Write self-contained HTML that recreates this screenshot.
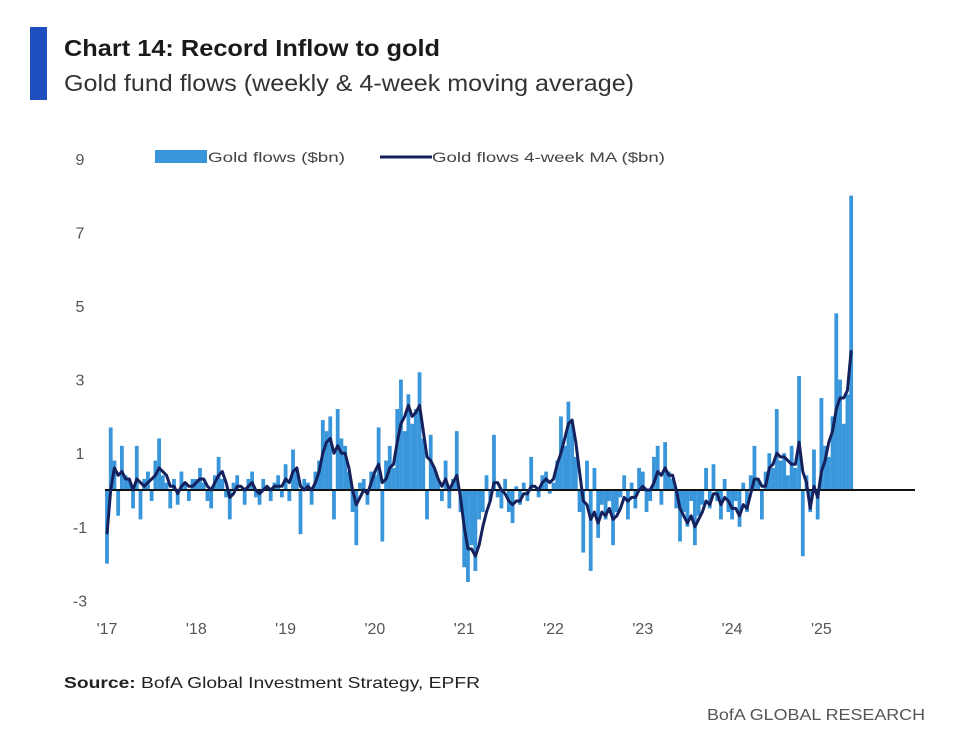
<!DOCTYPE html>
<html><head><meta charset="utf-8"><style>
html,body{margin:0;padding:0;background:#fff;}
svg{display:block;font-family:"Liberation Sans Narrow","Liberation Sans",sans-serif;}
</style></head><body>
<svg id="chart" width="962" height="748" viewBox="0 0 962 748">
<rect x="30" y="27" width="17" height="73" fill="#1f4fbf"/>
<text x="64" y="56" font-size="23" font-weight="bold" fill="#1a1a1a" textLength="376" lengthAdjust="spacingAndGlyphs">Chart 14: Record Inflow to gold</text>
<text x="64" y="91" font-size="23" fill="#333" textLength="570" lengthAdjust="spacingAndGlyphs">Gold fund flows (weekly &amp; 4-week moving average)</text>
<g>
<rect x="155" y="150" width="52" height="13" fill="#3a96da"/>
<text x="208" y="162" font-size="14" fill="#444" textLength="137" lengthAdjust="spacingAndGlyphs">Gold flows ($bn)</text>
<line x1="380" y1="157" x2="432" y2="157" stroke="#14215c" stroke-width="3"/>
<text x="432" y="162" font-size="14" fill="#444" textLength="233" lengthAdjust="spacingAndGlyphs">Gold flows 4-week MA ($bn)</text>
</g>
<g id="yaxis"></g>
<g id="xaxis"></g>
<g id="bars"></g>
<line x1="105" y1="490" x2="915" y2="490" stroke="#111" stroke-width="2"/>
<path id="maline" fill="none" stroke="#14215c" stroke-width="3" stroke-linejoin="round"/>
<text x="64" y="688" font-size="16" fill="#222" textLength="416" lengthAdjust="spacingAndGlyphs"><tspan font-weight="bold">Source:</tspan> BofA Global Investment Strategy, EPFR</text>
<text x="707" y="720" font-size="16" fill="#555" textLength="218" lengthAdjust="spacingAndGlyphs">BofA GLOBAL RESEARCH</text>
</svg>
<script>
const yTicks=[9,7,5,3,1,-1,-3];
const xTickLabels=["'17","'18","'19","'20","'21","'22","'23","'24","'25"];
const xTickYears=[2017,2018,2019,2020,2021,2022,2023,2024,2025];
const flows=[
-2.0,1.7,0.8,-0.7,1.2,0.4,0.3,-0.5,1.2,-0.8,0.3,0.5,-0.3,0.8,1.4,0.4,0.2,-0.5,0.3,-0.4,0.5,0.2,-0.3,0.3,
0.3,0.6,0.2,-0.3,-0.5,0.4,0.9,0.3,-0.2,-0.8,0.2,0.4,0.0,-0.4,0.3,0.5,-0.2,-0.4,0.3,0.1,-0.3,0.2,0.4,-0.2,
0.7,-0.3,1.1,0.6,-1.2,0.3,0.2,-0.4,0.5,0.8,1.9,1.6,2.0,-0.8,2.2,1.4,1.2,0.5,-0.6,-1.5,0.2,0.3,-0.4,0.5,
0.4,1.7,-1.4,0.8,1.2,0.6,2.2,3.0,1.6,2.6,1.8,2.2,3.2,1.4,-0.8,1.5,0.6,0.3,-0.3,0.8,-0.5,0.3,1.6,-0.6,
-2.1,-2.5,-1.5,-2.2,-0.8,-0.6,0.4,-0.3,1.5,-0.2,-0.5,0.3,-0.6,-0.9,0.1,-0.4,0.2,-0.3,0.9,0.0,-0.2,0.4,0.5,-0.1,
0.2,0.8,2.0,1.2,2.4,1.8,0.9,-0.6,-1.7,0.8,-2.2,0.6,-1.3,-0.4,-0.8,-0.3,-1.5,-0.6,-0.2,0.4,-0.8,0.2,-0.5,0.6,
0.5,-0.6,-0.3,0.9,1.2,-0.4,1.3,0.5,0.3,-0.5,-1.4,-0.6,-1.0,-0.3,-1.5,-0.7,-0.4,0.6,-0.5,0.7,-0.3,-0.8,0.3,-0.6,
-0.8,-0.3,-1.0,0.2,-0.6,0.4,1.2,0.3,-0.8,0.5,1.0,0.6,2.2,0.8,1.0,0.4,1.2,0.6,3.1,-1.8,0.4,-0.6,1.1,-0.8,
2.5,1.2,0.9,2.0,4.8,3.0,1.8,2.6,8.0];
const movingAvg=[
-1.2,0.0,0.6,0.4,0.5,0.3,0.3,0.0,0.3,0.2,0.1,0.2,0.3,0.4,0.6,0.5,0.4,0.1,0.1,-0.1,0.1,0.2,0.1,0.1,
0.2,0.3,0.3,0.1,0.0,0.2,0.4,0.5,0.2,-0.2,-0.1,0.1,0.1,0.0,0.1,0.2,0.0,-0.1,0.0,0.1,0.0,0.1,0.1,0.1,
0.3,0.2,0.5,0.6,0.1,0.0,0.1,0.0,0.2,0.5,1.0,1.3,1.4,1.0,1.2,1.0,1.0,0.6,0.0,-0.4,-0.2,0.0,-0.1,0.2,
0.5,0.7,0.2,0.3,0.6,0.7,1.3,1.8,2.0,2.3,2.0,2.1,2.3,1.6,0.9,0.8,0.6,0.3,0.1,0.3,0.0,0.2,0.4,-0.2,
-1.0,-1.6,-1.6,-1.8,-1.5,-1.0,-0.6,-0.3,0.2,0.2,0.0,-0.1,-0.3,-0.4,-0.3,-0.3,-0.1,-0.1,0.1,0.1,0.0,0.2,0.3,0.2,
0.3,0.7,1.0,1.4,1.8,1.9,1.3,0.5,-0.3,-0.4,-0.8,-0.6,-0.9,-0.6,-0.7,-0.5,-0.8,-0.7,-0.5,-0.2,-0.3,-0.2,-0.2,0.0,
0.1,0.0,0.0,0.2,0.5,0.4,0.6,0.4,0.4,0.0,-0.5,-0.7,-0.9,-0.7,-1.0,-0.8,-0.6,-0.3,-0.4,-0.1,-0.1,-0.4,-0.2,-0.3,
-0.5,-0.5,-0.7,-0.4,-0.5,-0.1,0.3,0.3,0.1,0.1,0.6,0.7,1.0,0.9,0.9,0.8,0.7,0.7,1.3,0.5,0.2,-0.5,0.1,-0.2,
0.5,0.8,1.3,1.6,2.2,2.5,2.5,2.7,3.8];
const startYear=2017, perYear=24;
const NS="http://www.w3.org/2000/svg";
function yScale(v){return 490-v*36.8;}
function xScale(t){return 107+(t-2017)*89.3;}
function tOf(i){return startYear+i/perYear;}
const ya=document.getElementById('yaxis');
yTicks.forEach(v=>{
  const t=document.createElementNS(NS,'text');
  t.setAttribute('x',80);t.setAttribute('y',yScale(v)+6);
  t.setAttribute('text-anchor','middle');t.setAttribute('font-size','16');t.setAttribute('fill','#555');
  t.textContent=v;
  
  
  ya.appendChild(t);
});
const xa=document.getElementById('xaxis');
xTickLabels.forEach((lab,i)=>{
  const t=document.createElementNS(NS,'text');
  t.setAttribute('x',xScale(xTickYears[i]));t.setAttribute('y',634);
  t.setAttribute('text-anchor','middle');t.setAttribute('font-size','16');t.setAttribute('fill','#555');
  t.textContent=lab;
  
  
  xa.appendChild(t);
});
const bars=document.getElementById('bars');
flows.forEach((v,i)=>{
  const r=document.createElementNS(NS,'rect');
  const x=xScale(tOf(i));
  const y0=yScale(0),y1=yScale(v);
  r.setAttribute('x',x-1.9);r.setAttribute('width',3.8);
  r.setAttribute('y',Math.min(y0,y1));r.setAttribute('height',Math.abs(y1-y0));
  r.setAttribute('fill','#3a96da');
  
  
  bars.appendChild(r);
});
let d='';
movingAvg.forEach((v,i)=>{d+=(i?'L':'M')+xScale(tOf(i)).toFixed(1)+' '+yScale(v).toFixed(1);});
document.getElementById('maline').setAttribute('d',d);
</script>
</body></html>
